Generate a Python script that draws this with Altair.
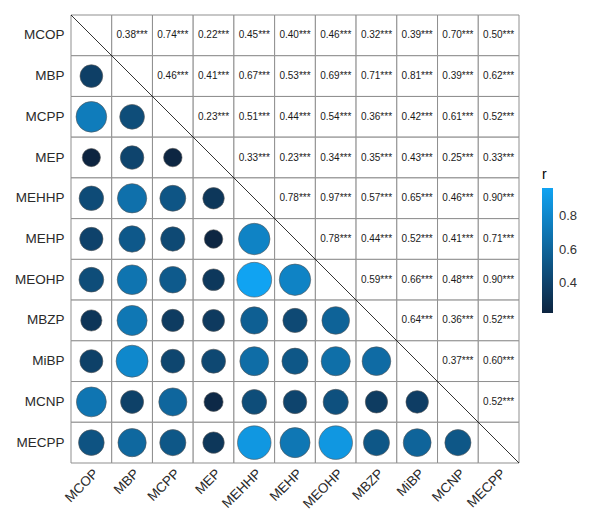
import altair as alt
import pandas as pd

names = ["MCOP", "MBP", "MCPP", "MEP", "MEHHP", "MEHP", "MEOHP", "MBZP", "MiBP", "MCNP", "MECPP"]

# upper-triangle correlations, row by row (row i, columns i+1 .. end)
upper = [
    [0.38, 0.74, 0.22, 0.45, 0.40, 0.46, 0.32, 0.39, 0.70, 0.50],
    [0.46, 0.41, 0.67, 0.53, 0.69, 0.71, 0.81, 0.39, 0.62],
    [0.23, 0.51, 0.44, 0.54, 0.36, 0.42, 0.61, 0.52],
    [0.33, 0.23, 0.34, 0.35, 0.43, 0.25, 0.33],
    [0.78, 0.97, 0.57, 0.65, 0.46, 0.90],
    [0.78, 0.44, 0.52, 0.41, 0.71],
    [0.59, 0.66, 0.48, 0.90],
    [0.64, 0.36, 0.52],
    [0.37, 0.60],
    [0.52],
]
stars = "***"

n = len(names)
r = [[None] * n for _ in range(n)]
for i, row in enumerate(upper):
    for k, v in enumerate(row):
        j = i + 1 + k
        r[i][j] = v
        r[j][i] = v

rows = []
for i in range(n):
    for j in range(n):
        kind = "diag" if i == j else ("lower" if i > j else "upper")
        val = r[i][j]
        rows.append({
            "row": names[i],
            "col": names[j],
            "r": val,
            "rs": val,
            "rl": val,
            "kind": kind,
            "label": "" if val is None else f"{val:.2f}{stars}",
        })
df = pd.DataFrame(rows)

W = 448
H = 448

x = alt.X("col:N", sort=names, title=None,
          scale=alt.Scale(paddingInner=0, paddingOuter=0),
          axis=alt.Axis(labelAngle=-45, labelAlign="right", labelBaseline="top",
                        ticks=False, domain=False, labelPadding=3,
                        labelFontSize=13.5, labelColor="#2a2a2a", labelFont="Liberation Sans"))
y = alt.Y("row:N", sort=names, title=None,
          scale=alt.Scale(paddingInner=0, paddingOuter=0),
          axis=alt.Axis(ticks=False, domain=False, labelPadding=7,
                        labelFontSize=13.5, labelColor="#2a2a2a", labelFont="Liberation Sans"))

def color_scale():
    return alt.Scale(domain=[0.22, 0.97], range=["#0D2440", "#10A3F2"], interpolate="rgb")

base = alt.Chart(df)

cells = base.mark_rect(fill="white", stroke="#8f8f8f", strokeWidth=1).encode(x=x, y=y)

circles = base.transform_filter(alt.datum.kind == "lower").mark_circle(
    opacity=1, stroke="#555555", strokeWidth=0.6
).encode(
    x=x, y=y,
    color=alt.Color("r:Q", scale=color_scale(), legend=None),
    size=alt.Size("rs:Q", scale=alt.Scale(domain=[0.22, 0.97], range=[330, 1210], zero=False),
                  legend=None),
)

legend_layer = base.transform_filter(alt.datum.kind == "lower").mark_rect(
    opacity=1, width=0.001, height=0.001
).encode(
    x=x, y=y,
    color=alt.Color("rl:Q", title="r", scale=color_scale(),
                    legend=alt.Legend(type="gradient", orient="none", legendX=471, legendY=153,
                                      gradientLength=125, gradientThickness=11,
                                      values=[0.4, 0.6, 0.8], titleFontSize=14,
                                      titleFontWeight="normal", titleFont="Liberation Sans",
                                      labelFont="Liberation Sans", labelFontSize=13,
                                      labelColor="#333333", gradientStrokeWidth=0,
                                      labelOffset=6, titlePadding=6)),
)

texts = base.transform_filter(alt.datum.kind == "upper").mark_text(
    fontSize=10, font="Liberation Sans", color="#1a1a1a"
).encode(x=x, y=y, text="label:N")

diag = alt.Chart(df).mark_rule(color="black", strokeWidth=0.8).encode(
    x=alt.value(0), x2=alt.value(W), y=alt.value(0), y2=alt.value(H)
).transform_filter("datum.row == 'MCOP' && datum.col == 'MCOP'")

chart = alt.layer(cells, circles, legend_layer, texts, diag).resolve_scale(
    color="independent"
).resolve_legend(color="independent").properties(
    width=W, height=H,
    padding={"left": 6, "top": 6, "right": 5, "bottom": 0},
).configure_view(stroke=None)

chart.save("out.html", embed_options={"renderer": "svg", "actions": False})
